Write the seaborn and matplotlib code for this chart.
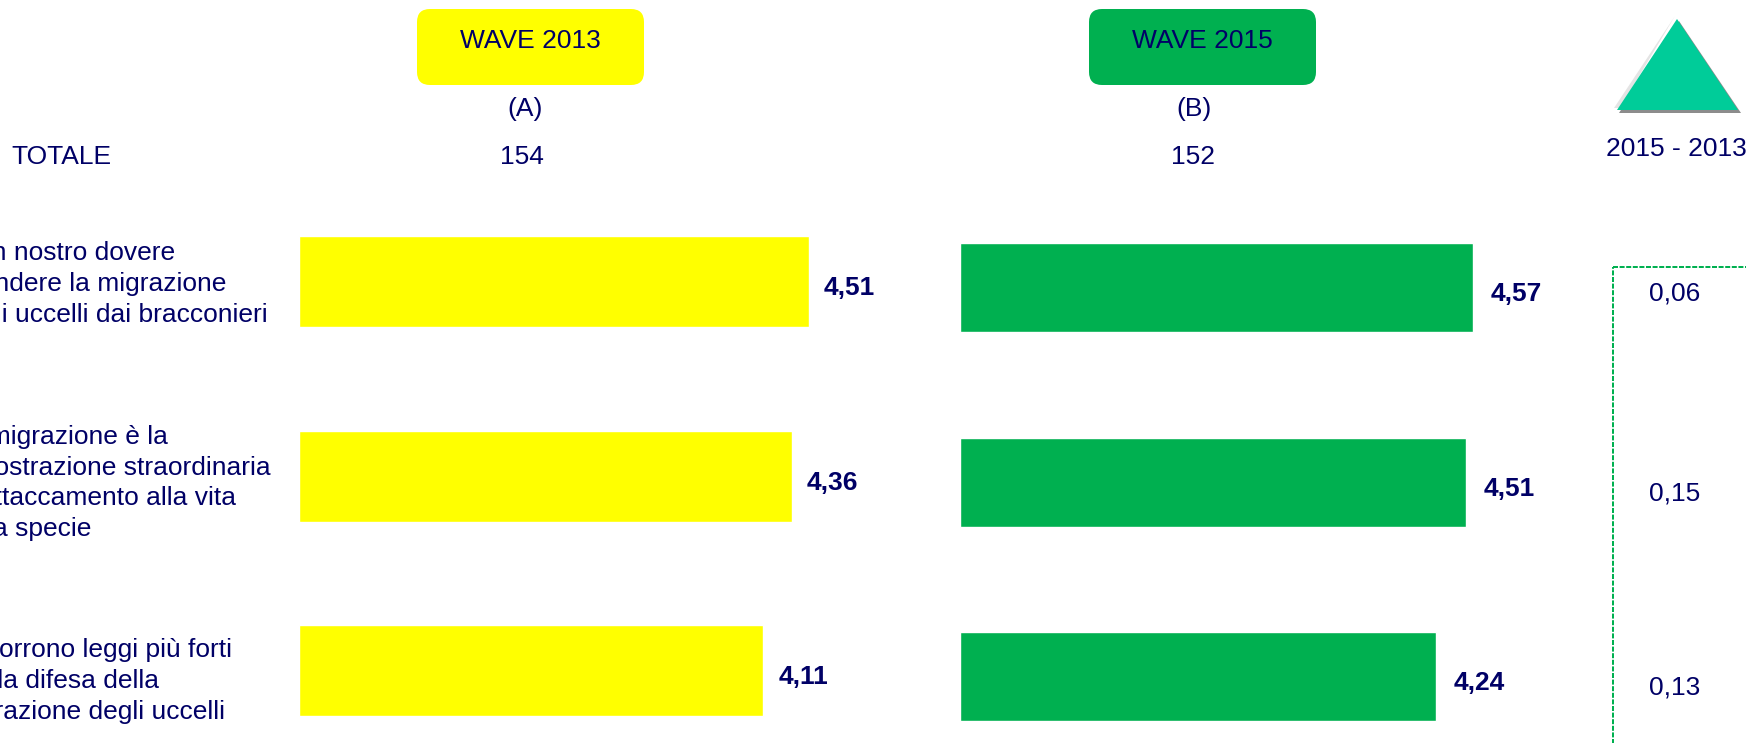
import pandas as pd
import matplotlib.pyplot as plt
from matplotlib.patches import FancyBboxPatch, Polygon
import seaborn as sns

sns.set_theme(style='white')
plt.rcParams['font.family'] = ['Liberation Sans', 'DejaVu Sans']

# Data
items = [
    'È un nostro dovere\ndifendere la migrazione\ndegli uccelli dai bracconieri',
    'La migrazione è la\ndimostrazione straordinaria\ndi attaccamento alla vita\ndella specie',
    'Occorrono leggi più forti\nper la difesa della\nmigrazione degli uccelli',
]
wave_2013 = [4.51, 4.36, 4.11]
wave_2015 = [4.57, 4.51, 4.24]
delta = ['0,06', '0,15', '0,13']
base_2013 = '154'
base_2015 = '152'

W, H = 1746, 743
NAVY = '#000066'
YELLOW = '#FFFF00'
GREEN = '#00B050'
FS = 19

fig = plt.figure(figsize=(W / 100, H / 100), dpi=100)


def px_axes(left, right):
    # axes spanning the figure height, between two pixel columns
    ax = fig.add_axes([left / W, 0, (right - left) / W, 1])
    ax.patch.set_alpha(0)
    return ax


def draw_bars(ax, values, color, width, first_y, xmax, pad, drop):
    df = pd.DataFrame({'item': items, 'value': values})
    sns.barplot(data=df, x='value', y='item', color=color, saturation=1,
                width=width, ax=ax)
    ax.set_xlim(0, xmax)
    # about 194.5 px between rows
    ax.set_ylim((H - first_y) / 194.5, -first_y / 194.5)
    ax.axis('off')
    for i, v in enumerate(values):
        ax.annotate(f'{v:.2f}'.replace('.', ','), (v, i), xytext=(pad, drop),
                    textcoords='offset points', va='center', ha='left',
                    fontsize=FS, fontweight='bold', color=NAVY)


ax_a = px_axes(299, 899)
draw_bars(ax_a, wave_2013, YELLOW, 91 / 194.5, 281.5, 600 / 113, 11, -5)
ax_b = px_axes(960, 1560)
draw_bars(ax_b, wave_2015, GREEN, 89 / 194.5, 287.5, 600 / 112.2, 13, -5)

# overlay in pixel coordinates for the headers and side labels
ov = fig.add_axes([0, 0, 1, 1], zorder=5)
ov.set_xlim(0, W)
ov.set_ylim(H, 0)
ov.axis('off')
ov.patch.set_alpha(0)

for x0, x1, col, name in [(417, 644, YELLOW, 'WAVE 2013'), (1089, 1316, GREEN, 'WAVE 2015')]:
    ov.add_patch(FancyBboxPatch((x0 + 13, 22), x1 - x0 - 26, 50,
                                boxstyle='round,pad=13,rounding_size=13',
                                fc=col, ec='none', mutation_aspect=1))
    ov.text((x0 + x1) / 2, 41, name, ha='center', va='center', fontsize=FS, color=NAVY)


def label(x, y, s, ha='center', **kw):
    ov.text(x, y, s, ha=ha, va='center', fontsize=FS, color=NAVY, **kw)


label(525, 109, '(A)')
label(1194, 109, '(B)')
label(11, 157, 'TOTALE', ha='left')
label(522, 157, base_2013)
label(1193, 157, base_2015)
label(1676, 149, '2015 - 2013')

# row texts start off the left edge, as in the source slide
for s, y in zip(items, [284, 483, 681]):
    label(-48.5, y, s, ha='left', linespacing=1.36)

for s, y in zip(delta, [294, 493, 688]):
    label(1675, y, s)

# triangle with its bevel
ov.add_patch(Polygon([(1675, 16), (1614, 108), (1620, 108)], fc='#E4E4E4', ec='none'))
ov.add_patch(Polygon([(1679, 21), (1741, 113), (1619, 113)], fc='#8C8C8C', ec='none'))
ov.add_patch(Polygon([(1677, 19), (1738, 110), (1617, 110)], fc='#00CC99', ec='none'))

# dashed frame runs off the right and bottom edges
ov.plot([1613, 1613], [H + 5, 267], color=GREEN, lw=1.44, ls=(0, (2.5, 0.8)))
ov.plot([1613, W + 5], [267, 267], color=GREEN, lw=1.44, ls=(0, (2.5, 0.8)))

fig.savefig('out.png', dpi=100, facecolor='white')
